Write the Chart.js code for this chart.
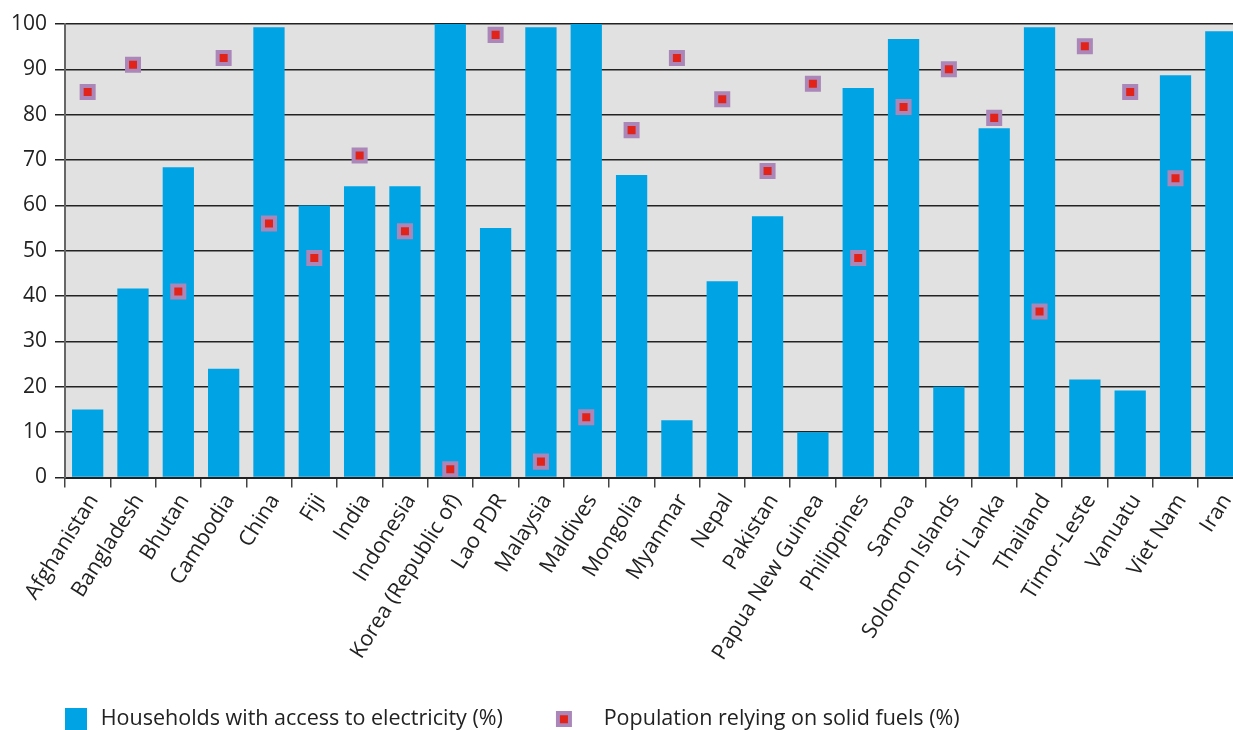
<!DOCTYPE html>
<html>
<head>
<meta charset="utf-8">
<script src="https://cdn.jsdelivr.net/npm/chart.js@4.4.1/dist/chart.umd.min.js"></script>
<style>
  html, body { margin: 0; padding: 0; overflow: hidden; background: #fff; }
  #chart { display: block; width: 1256px; height: 740px; }
</style>
</head>
<body>
<canvas id="chart" width="1256" height="740"></canvas>
<script>
const countries = ["Afghanistan", "Bangladesh", "Bhutan", "Cambodia", "China", "Fiji", "India",
  "Indonesia", "Korea (Republic of)", "Lao PDR", "Malaysia", "Maldives", "Mongolia", "Myanmar",
  "Nepal", "Pakistan", "Papua New Guinea", "Philippines", "Samoa", "Solomon Islands", "Sri Lanka",
  "Thailand", "Timor-Leste", "Vanuatu", "Viet Nam", "Iran"];

// households with access to electricity (%)
const electricity = [15, 41.7, 68.4, 24, 99.3, 60, 64.2, 64.2, 100, 55, 99.3, 100, 66.7, 12.6,
  43.3, 57.6, 10, 85.9, 96.7, 20, 77, 99.3, 21.6, 19.2, 88.7, 98.4];

// population relying on solid fuels (%)
const solidFuels = [85, 91, 41, 92.5, 56, 48.4, 71, 54.3, 1.8, 97.6, 3.5, 13.3, 76.6, 92.5,
  83.4, 67.6, 86.8, 48.4, 81.7, 90, 79.3, 36.6, 95.1, 85, 66, null];

const yTicks = [0, 10, 20, 30, 40, 50, 60, 70, 80, 90, 100];

const seriesNames = ["Households with access to electricity (%)", "Population relying on solid fuels (%)"];

const BLUE = "#00a3e3";
const RED = "#e2231a";
const PURPLE = "#ab86b8";
const FONT = "'Open Sans', sans-serif";

// legend swatches (legend item: padding 10, point width 80 -> text at x=100)
function swatch(w, h, draw) {
  const c = document.createElement("canvas");
  c.width = w; c.height = h;
  draw(c.getContext("2d"));
  return c;
}
const blueBox = swatch(74, 22, ctx => { ctx.fillStyle = BLUE; ctx.fillRect(52, 0, 22, 22); });
const fuelBox = swatch(74, 16, ctx => {
  ctx.fillStyle = PURPLE; ctx.fillRect(40, 0, 16, 16);
  ctx.fillStyle = RED; ctx.fillRect(44, 4, 8, 8);
});

const plotBg = {
  id: "plotBg",
  beforeDraw(chart) {
    const { ctx, chartArea: a } = chart;
    ctx.save();
    ctx.fillStyle = "#e1e1e1";
    ctx.fillRect(a.left, a.top, a.right - a.left, a.bottom - a.top);
    ctx.restore();
  }
};

new Chart(document.getElementById("chart"), {
  data: {
    labels: countries,
    datasets: [
      {
        type: "bar",
        label: seriesNames[0],
        data: electricity,
        backgroundColor: BLUE,
        barPercentage: 0.69,
        categoryPercentage: 1,
        order: 2
      },
      {
        type: "line",
        label: seriesNames[1],
        data: solidFuels,
        showLine: false,
        pointStyle: "rect",
        pointRadius: 8.5,
        pointHoverRadius: 8.5,
        pointBackgroundColor: RED,
        pointBorderColor: PURPLE,
        pointBorderWidth: 4,
        order: 1
      }
    ]
  },
  options: {
    responsive: false,
    animation: false,
    layout: { padding: { top: 24, left: 0, right: 0, bottom: 0 } },
    plugins: {
      tooltip: { enabled: false },
      legend: {
        position: "bottom",
        align: "start",
        labels: {
          usePointStyle: true,
          pointStyleWidth: 80,
          padding: 10,
          color: "#222",
          font: { family: FONT, size: 21.5 },
          generateLabels: () => [
            { text: seriesNames[0], pointStyle: blueBox, datasetIndex: 0, lineWidth: 0, fontColor: "#222" },
            { text: seriesNames[1], pointStyle: fuelBox, datasetIndex: 1, lineWidth: 0, fontColor: "#222" }
          ]
        }
      }
    },
    scales: {
      x: {
        offset: true,
        afterFit: s => { s.height = 221; s.paddingRight = 0; s.paddingLeft = 0; },
        grid: {
          offset: true,
          drawOnChartArea: false,
          tickLength: 10,
          color: "#444",
          lineWidth: 1.5
        },
        border: { color: "#222", width: 2 },
        ticks: {
          minRotation: 58,
          maxRotation: 58,
          autoSkip: false,
          padding: 2,
          labelOffset: 6,
          color: "#222",
          font: { family: FONT, size: 21.5 }
        }
      },
      y: {
        min: 0,
        max: 100,
        afterFit: s => { s.width = 65; },
        afterBuildTicks: s => { s.ticks = yTicks.map(v => ({ value: v })); },
        grid: {
          color: "#222",
          lineWidth: 1.5,
          tickLength: 10
        },
        border: { color: "#666", width: 2 },
        ticks: {
          padding: 8,
          color: "#222",
          font: { family: FONT, size: 21 }
        }
      }
    }
  },
  plugins: [plotBg]
});
</script>
</body>
</html>
